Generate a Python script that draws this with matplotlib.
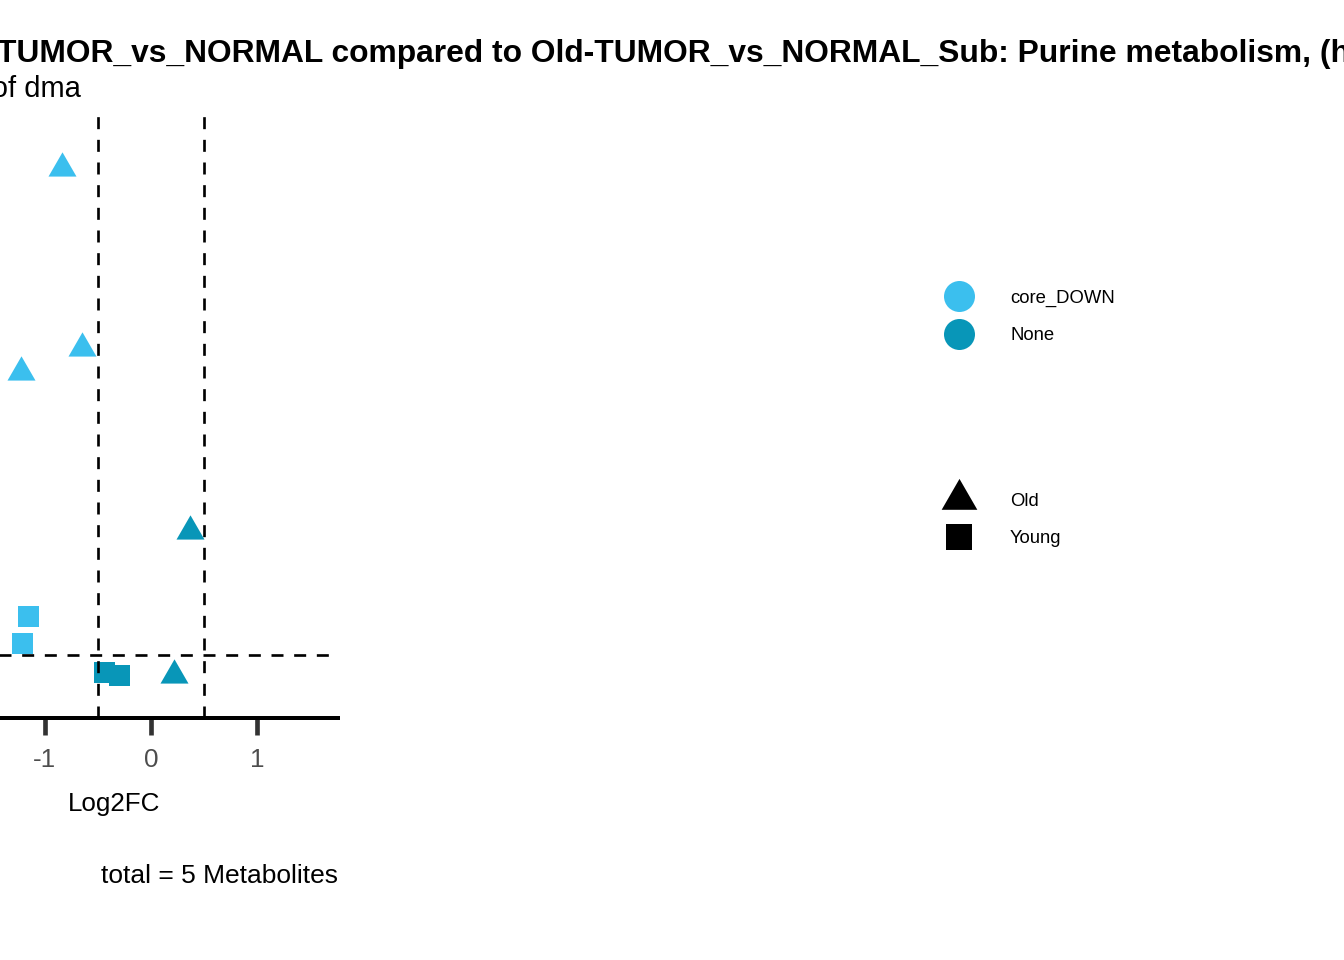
import matplotlib
matplotlib.use("Agg")
import matplotlib.pyplot as plt
from matplotlib.path import Path
from matplotlib.lines import Line2D
import numpy as np

plt.rcParams['font.family'] = ['Liberation Sans', 'DejaVu Sans']

# ---- data ----
log2fc = [-0.836, -0.648, -1.223, 0.366, 0.216, -1.155, -1.207, -0.443, -0.296]
neglog10p = [11.31, 7.62, 7.12, 3.85, 0.90, 2.10, 1.54, 0.95, 0.88]
group = ["Old", "Old", "Old", "Old", "Old", "Young", "Young", "Young", "Young"]
status = ["core_DOWN", "core_DOWN", "core_DOWN", "None", "None",
          "core_DOWN", "core_DOWN", "None", "None"]
status_levels = ["core_DOWN", "None"]
group_levels = ["Old", "Young"]
fc_cutoffs = [-0.5, 0.5]
p_cutoff = 1.301
x_ticks = [-1, 0, 1]
title = "Young-TUMOR_vs_NORMAL compared to Old-TUMOR_vs_NORMAL_Sub: Purine metabolism, (hsa00230)"
subtitle = "Log2FC of dma"
xlabel = "Log2FC"
caption = "total = 5 Metabolites"

colors = {"core_DOWN": "#3BBFEE", "None": "#0896B8"}
tri = Path([(0, 1), (-0.866, -0.5), (0.866, -0.5), (0, 1)],
           [Path.MOVETO, Path.LINETO, Path.LINETO, Path.CLOSEPOLY])
shapes = {"Old": tri, "Young": "s"}
msize = {"Old": 24.25, "Young": 15.75}

W, H = 1344, 960
fig = plt.figure(figsize=(W / 96, H / 96), dpi=96)

def fx(px):
    return px / W

def fy(py):
    return 1 - py / H

left, right, top, bottom = -110, 338.3, 115, 718.3
ax = fig.add_axes([fx(left), fy(bottom), (right - left) / W, (bottom - top) / H])
ax.set_xlim(-2.451, 1.759)
ax.set_ylim(0, 12.40)

for x, y, g, s in zip(log2fc, neglog10p, group, status):
    ax.plot([x], [y], marker=shapes[g], ms=msize[g], color=colors[s],
            mew=0, ls='none', zorder=2, clip_on=False)

dash = (0, (4.5, 4.0))
for c in fc_cutoffs:
    ax.axvline(c, color='black', lw=2.0, ls=dash, zorder=3)
ax.axhline(p_cutoff, color='black', lw=2.0, ls=dash, zorder=3)

for sp in ['top', 'right', 'left']:
    ax.spines[sp].set_visible(False)
ax.spines['bottom'].set_linewidth(3)
ax.spines['bottom'].set_color('black')
ax.set_xticks(x_ticks)
ax.set_xticklabels([str(t) for t in x_ticks])
ax.tick_params(axis='x', length=12.5, width=3.5, color='#333333',
               labelsize=19.5, labelcolor='#4D4D4D', pad=9.5)
ax.set_yticks([])
ax.set_facecolor('none')

# titles
fig.text(fx(left), fy(61.7), title, fontsize=23.8, fontweight='bold',
         ha='left', va='baseline')
fig.text(fx(81), fy(97), subtitle, fontsize=21.8, ha='right', va='baseline')
fig.text(fx((left + right) / 2), fy(810.7), xlabel, fontsize=19.5,
         ha='center', va='baseline')
fig.text(fx(right), fy(882.7), caption, fontsize=19.8, ha='right', va='baseline')

# legends (manual)
leg_x = 959
for lvl, py in zip(status_levels, [296, 334]):
    fig.add_artist(Line2D([fx(leg_x)], [fy(py)], marker='o', ms=23.25,
                          color=colors[lvl], mew=0, ls='none',
                          transform=fig.transFigure))
    fig.text(fx(1010), fy(py), lvl, fontsize=13.9, ha='left', va='center_baseline')
leg_ms = {"Old": 30.9, "Young": 19.9}
for lvl, py in zip(group_levels, [499.2, 536.7]):
    fig.add_artist(Line2D([fx(leg_x)], [fy(py)], marker=shapes[lvl], ms=leg_ms[lvl],
                          color='black', mew=0, ls='none',
                          transform=fig.transFigure))
    fig.text(fx(1010), fy(py), lvl, fontsize=13.9, ha='left', va='center_baseline')

fig.savefig("out.png", dpi=96)
